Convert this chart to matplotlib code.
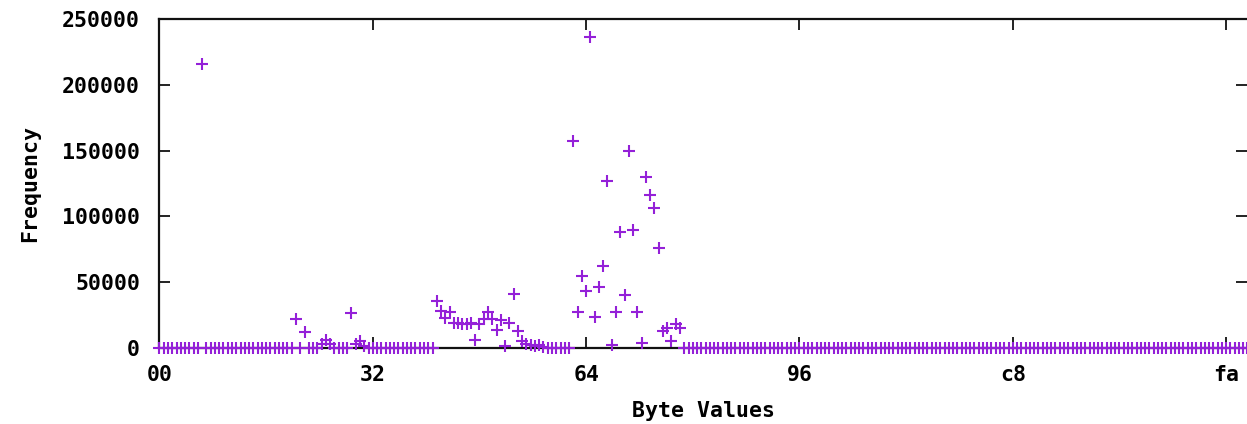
import numpy as np
import matplotlib
matplotlib.use("Agg")
import matplotlib.pyplot as plt

# byte values that show up above the baseline, and their counts
hit_bytes = [10, 32, 34, 38, 39, 40, 45, 46, 47, 48,
             65, 66, 67, 68, 69, 70, 71, 72, 73, 74, 75, 76, 77, 78, 79,
             80, 81, 82, 83, 84, 85, 86, 87, 88, 89, 90,
             97, 98, 99, 100, 101, 102, 103, 104, 105, 106, 107, 108, 109,
             110, 111, 112, 113, 114, 115, 116, 117, 118, 119, 120, 121, 122]
hit_counts = [216000, 22000, 12400, 3000, 6000, 3000, 26400, 3000, 5500, 1500,
              36000, 28000, 23000, 27000, 19000, 19000, 18000, 18000, 19000, 6000,
              18000, 22000, 27000, 22000, 14000,
              21000, 1200, 19000, 41000, 13000, 5000, 3000, 2500, 1200, 2000, 1000,
              157500, 27600, 54700, 43300, 236000, 23800, 46600, 62300, 126700,
              2300, 27600, 87900, 40300,
              149700, 89700, 27600, 3500, 130200, 116300, 106200, 75800, 13000,
              15000, 5500, 18000, 15000]

x_ticks = [0, 50, 100, 150, 200, 250]
x_tick_labels = ["00", "32", "64", "96", "c8", "fa"]
y_ticks = [0, 50000, 100000, 150000, 200000, 250000]

# every byte 0..255 is plotted, the ones not listed are zero
byte_vals = np.arange(256)
freq = np.zeros(256)
freq[hit_bytes] = hit_counts

fig = plt.figure(figsize=(12.47, 4.24), dpi=100)
ax = fig.add_axes([0.1279, 0.1792, 0.8725, 0.776])

ax.plot(byte_vals, freq, linestyle="none", marker="+", color="#9420d8",
        markersize=9, markeredgewidth=1.5, clip_on=False, zorder=3)

ax.set_xlim(0, 255)
ax.set_ylim(0, 250000)

font = dict(family="DejaVu Sans Mono", weight="bold", size=15.5)
ax.set_xticks(x_ticks)
ax.set_xticklabels(x_tick_labels, fontdict=font)
ax.set_yticks(y_ticks)
ax.set_yticklabels([str(v) for v in y_ticks], fontdict=font)
ax.set_xlabel("Byte Values", fontdict=font, labelpad=12)
ax.set_ylabel("Frequency", fontdict=font, labelpad=16)

ax.tick_params(direction="in", length=8, width=1.3, color="#111111",
               top=True, right=True, pad=12)
ax.tick_params(axis="y", pad=14)
for side in ["left", "top", "bottom"]:
    ax.spines[side].set_linewidth(1.6)
    ax.spines[side].set_color("#111111")
ax.spines["right"].set_visible(False)

fig.savefig("out.png", dpi=100)
